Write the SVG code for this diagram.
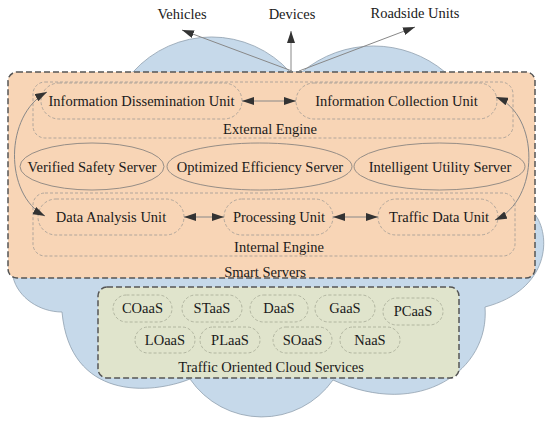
<svg xmlns="http://www.w3.org/2000/svg" width="550" height="423" viewBox="0 0 550 423">
<defs>
<marker id="ah" markerUnits="userSpaceOnUse" markerWidth="12" markerHeight="8" refX="12" refY="4" orient="auto-start-reverse">
<path d="M0,0 L12,4 L0,8 z" fill="#333"/>
</marker>
<style>
text{font-family:"Liberation Serif","Times New Roman",serif;font-size:14.5px;fill:#1a1a1a;text-anchor:middle}
.cloud{fill:#c6d9ea;stroke:#8f9fae;stroke-width:0.8}
.box{stroke:#555;stroke-width:1.5;stroke-dasharray:6 3}
.eng{fill:none;stroke:#a09a94;stroke-width:0.8;stroke-dasharray:3 2}
.pill{fill:none;stroke:#a09a94;stroke-width:0.8;stroke-dasharray:3 2}
.srv{fill:none;stroke:#8a8580;stroke-width:0.9}
.gpill{fill:none;stroke:#a6a996;stroke-width:0.8;stroke-dasharray:3 2}
.conn{fill:none;stroke:#888;stroke-width:1}
</style>
</defs>
<g id="cloud">
<path class="cloud" d="M133,72 A105.5,105.5 0 0 1 290,72 L302,72 A111.3,111.3 0 0 1 445,72 L534,213 C552,235 550,290 485,307 C490,370 420,420 333,380 A87,87 0 0 1 190,379 C150,395 70,400 62,312 C40,312 18,298 13,277 L20,100 Z"/>
</g>
<g id="smart-servers">
<rect class="box" x="8" y="72" width="527" height="206" rx="9" fill="#f8d5b6"/>
<text x="265" y="277">Smart Servers</text>
</g>
<g id="external-engine">
<rect class="eng" x="33" y="82" width="480" height="56" rx="12"/>
<text x="270" y="134">External Engine</text>
</g>
<g id="info-dissemination">
<rect class="pill" x="41" y="83" width="201" height="36" rx="18"/>
<text x="141.5" y="106">Information Dissemination Unit</text>
</g>
<g id="info-collection">
<rect class="pill" x="296" y="83" width="201" height="36" rx="18"/>
<text x="396.5" y="106">Information Collection Unit</text>
</g>
<g id="verified-safety">
<ellipse class="srv" cx="92" cy="166.5" rx="72" ry="23.5"/>
<text x="92" y="172">Verified Safety Server</text>
</g>
<g id="optimized-efficiency">
<ellipse class="srv" cx="259.5" cy="166.5" rx="92.5" ry="23.5"/>
<text x="260" y="172">Optimized Efficiency Server</text>
</g>
<g id="intelligent-utility">
<ellipse class="srv" cx="439.5" cy="166.5" rx="85.5" ry="23.5"/>
<text x="440" y="172">Intelligent Utility Server</text>
</g>
<g id="internal-engine">
<rect class="eng" x="33" y="193" width="482" height="63" rx="12"/>
<text x="279" y="252">Internal Engine</text>
</g>
<g id="data-analysis">
<rect class="pill" x="38" y="199" width="146" height="36" rx="18"/>
<text x="111" y="222">Data Analysis Unit</text>
</g>
<g id="processing">
<rect class="pill" x="224" y="199" width="109" height="36" rx="18"/>
<text x="279" y="222">Processing Unit</text>
</g>
<g id="traffic-data">
<rect class="pill" x="378" y="199" width="120" height="36" rx="18"/>
<text x="439" y="222">Traffic Data Unit</text>
</g>
<g id="cloud-services">
<rect class="box" x="98" y="287" width="361" height="91" rx="9" fill="#e0e4cc"/>
<text x="271" y="372">Traffic Oriented Cloud Services</text>
</g>
<g id="coaas"><rect class="gpill" x="113" y="295" width="59" height="27" rx="13.5"/><text x="142.5" y="313">COaaS</text></g>
<g id="staas"><rect class="gpill" x="182" y="295" width="60" height="27" rx="13.5"/><text x="212" y="313">STaaS</text></g>
<g id="daas"><rect class="gpill" x="250" y="295" width="58" height="27" rx="13.5"/><text x="279" y="313">DaaS</text></g>
<g id="gaas"><rect class="gpill" x="315" y="295" width="60" height="27" rx="13.5"/><text x="345" y="313">GaaS</text></g>
<g id="pcaas"><rect class="gpill" x="383" y="298" width="60" height="27" rx="13.5"/><text x="413" y="316">PCaaS</text></g>
<g id="loaas"><rect class="gpill" x="135" y="327" width="60" height="26" rx="13"/><text x="165" y="345">LOaaS</text></g>
<g id="plaas"><rect class="gpill" x="200" y="327" width="60" height="26" rx="13"/><text x="230" y="345">PLaaS</text></g>
<g id="soaas"><rect class="gpill" x="273" y="327" width="59" height="26" rx="13"/><text x="302.5" y="345">SOaaS</text></g>
<g id="naas"><rect class="gpill" x="340" y="327" width="60" height="26" rx="13"/><text x="370" y="345">NaaS</text></g>
<g id="vehicles"><text x="182" y="19">Vehicles</text></g>
<g id="devices"><text x="292" y="19">Devices</text></g>
<g id="roadside-units"><text x="415" y="18">Roadside Units</text></g>
<g id="connectors">
<line class="conn" x1="292" y1="71" x2="182" y2="30" marker-end="url(#ah)"/>
<line class="conn" x1="291" y1="71" x2="291" y2="31" marker-end="url(#ah)"/>
<line class="conn" x1="299" y1="71" x2="415" y2="27" marker-end="url(#ah)"/>
<line class="conn" x1="242" y1="101" x2="296" y2="101" marker-start="url(#ah)" marker-end="url(#ah)"/>
<line class="conn" x1="184" y1="217" x2="224" y2="217" marker-start="url(#ah)" marker-end="url(#ah)"/>
<line class="conn" x1="333" y1="217" x2="378" y2="217" marker-start="url(#ah)" marker-end="url(#ah)"/>
<path class="conn" d="M47,92 C4,115 4,195 45,216" marker-start="url(#ah)" marker-end="url(#ah)"/>
<path class="conn" d="M496,97 C540,115 540,200 495,220" marker-start="url(#ah)" marker-end="url(#ah)"/>
</g>
</svg>
